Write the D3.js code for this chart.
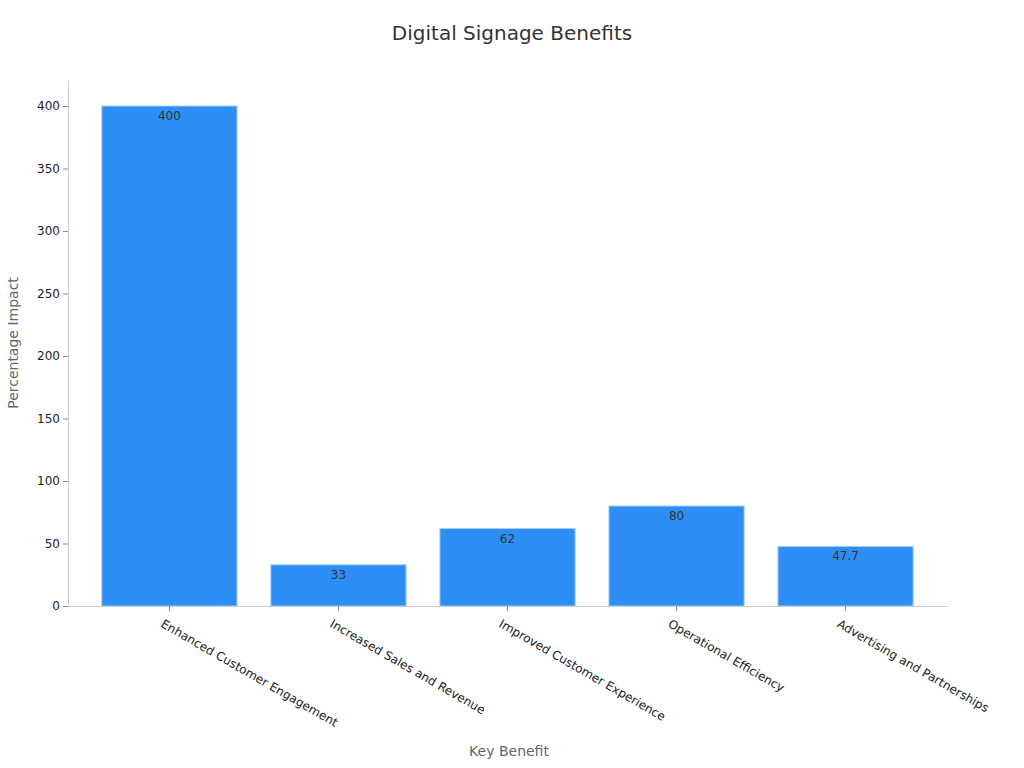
<!DOCTYPE html><html><head><meta charset="utf-8">
<script src="https://cdn.jsdelivr.net/npm/d3@7"></script>
<style>body{margin:0;background:#fff;font-family:"DejaVu Sans",sans-serif}</style></head><body>
<svg id="c" width="1024" height="768"></svg>
<script>
const categories=["Enhanced Customer Engagement","Increased Sales and Revenue","Improved Customer Experience","Operational Efficiency","Advertising and Partnerships"];
const values=[400,33,62,80,47.7];
const yTicks=[0,50,100,150,200,250,300,350,400];
const svg=d3.select("#c");
const L=68,R=947,T=80,B=606;
const x=d3.scaleBand().domain(categories).range([L,R]).padding(0.2);
const y=d3.scaleLinear().domain([0,420.8]).range([B,T]);
svg.append("text").attr("x",512).attr("y",40).attr("text-anchor","middle").attr("font-size",20).attr("fill","#333").text("Digital Signage Benefits");
svg.selectAll("rect.b").data(values).join("rect").attr("x",(d,i)=>x(categories[i])).attr("width",x.bandwidth())
 .attr("y",d=>y(d)).attr("height",d=>B-y(d)).attr("fill","#2d8ff5").attr("stroke","#a9cdf7").attr("stroke-width",1);
svg.selectAll("text.v").data(values).join("text").attr("x",(d,i)=>x(categories[i])+x.bandwidth()/2).attr("y",d=>y(d)+14)
 .attr("text-anchor","middle").attr("font-size",12).attr("fill","#333").text(d=>d);
const ya=svg.append("g").attr("transform",`translate(${L},0)`).call(d3.axisLeft(y).tickValues(yTicks).tickSize(5).tickSizeOuter(0));
ya.selectAll("text").attr("font-size",12).attr("fill","#222").attr("font-family","DejaVu Sans");
ya.selectAll("line").attr("stroke","#888");ya.select(".domain").attr("stroke","#ccc");
const xa=svg.append("g").attr("transform",`translate(0,${B})`).call(d3.axisBottom(x).tickSize(5).tickSizeOuter(0));
xa.select(".domain").attr("stroke","#ccc");xa.selectAll("line").attr("stroke","#888");
xa.selectAll("text").attr("font-size",12).attr("fill","#222").attr("font-family","DejaVu Sans")
 .attr("text-anchor","start").attr("transform","translate(0,4) rotate(30)").attr("dx","0").attr("dy","0.9em");
svg.append("text").attr("x",509).attr("y",756).attr("text-anchor","middle").attr("font-size",14).attr("fill","#666").text("Key Benefit");
svg.append("text").attr("transform","translate(18,343) rotate(-90)").attr("text-anchor","middle").attr("font-size",14).attr("fill","#666").text("Percentage Impact");
</script></body></html>
